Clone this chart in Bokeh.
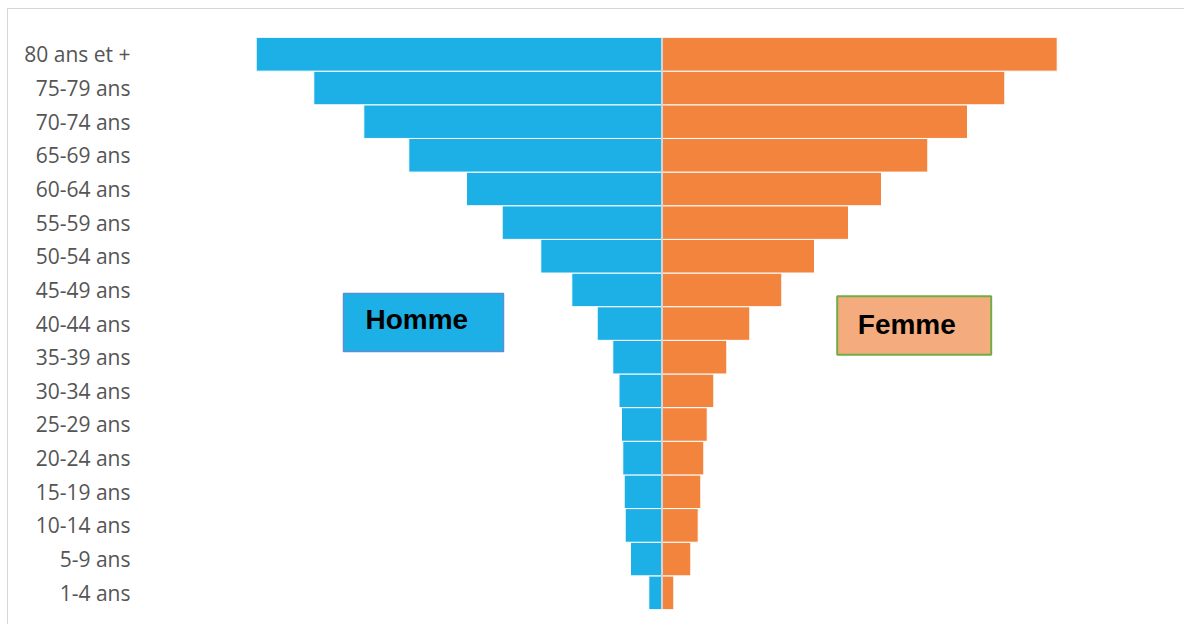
from bokeh.plotting import figure
from bokeh.models import ColumnDataSource, FactorRange, Range1d, Span
from bokeh.core.properties import value
from bokeh.embed import file_html
from bokeh.resources import INLINE

# Age groups, bottom to top
categories = ["1-4 ans", "5-9 ans", "10-14 ans", "15-19 ans", "20-24 ans", "25-29 ans",
              "30-34 ans", "35-39 ans", "40-44 ans", "45-49 ans", "50-54 ans", "55-59 ans",
              "60-64 ans", "65-69 ans", "70-74 ans", "75-79 ans", "80 ans et +"]
hommes = [13.2, 31.5, 36.8, 37.8, 39.2, 40.5, 43.0, 49.2, 64.8, 90.2, 121.2, 159.8,
          195.5, 253.2, 298.2, 348.2, 405.8]
femmes = [11.8, 28.8, 36.2, 38.8, 41.8, 45.2, 51.8, 64.8, 87.8, 119.8, 152.5, 186.5,
          219.5, 265.8, 305.5, 342.8, 395.2]
legend_labels = ["Homme", "Femme"]

BLUE = "#1cb0e6"
ORANGE = "#f2843d"

src = ColumnDataSource(dict(
    cat=categories,
    h_left=[-v for v in hommes],
    h_right=[0] * len(hommes),
    f_left=[0] * len(femmes),
    f_right=femmes,
))

p = figure(width=1177, height=616, output_backend="svg", toolbar_location=None,
           y_range=FactorRange(factors=categories, range_padding=0),
           x_range=Range1d(-521.5, 523.5),
           x_axis_location=None,
           min_border_left=132, min_border_right=0, min_border_top=28, min_border_bottom=16)
p.styles = {"margin-left": "7px", "margin-top": "8px",
            "border-left": "1px solid #d6d6d6", "border-top": "1px solid #d6d6d6"}
p.outline_line_color = None
p.xgrid.visible = False
p.ygrid.visible = False
p.background_fill_color = "white"
p.border_fill_color = "white"

p.hbar(y="cat", left="h_left", right="h_right", height=1.0, source=src,
       fill_color=BLUE, line_color="white", line_width=1)
p.hbar(y="cat", left="f_left", right="f_right", height=1.0, source=src,
       fill_color=ORANGE, line_color="white", line_width=1)

p.add_layout(Span(location=0, dimension="height", line_color="#d4d4d4", line_width=2))

yax = p.yaxis[0]
yax.axis_line_color = None
yax.major_tick_line_color = None
yax.minor_tick_line_color = None
yax.major_tick_out = 0
yax.major_tick_in = 0
yax.major_label_standoff = 10
yax.major_label_text_font = "Open Sans"
yax.major_label_text_font_size = "21px"
yax.major_label_text_color = "#555555"

# Legend-like boxes
p.quad(left=[-318.5], right=[-158.5], top=[9.392], bottom=[7.668],
       fill_color=BLUE, line_color="#5b8fd5", line_width=1.5)
p.quad(left=[175.2], right=[329.2], top=[9.311], bottom=[7.570],
       fill_color="#f4ac7e", line_color="#70ad47", line_width=2)
p.text(x=[-296.5], y=[8.62], text=[legend_labels[0]], text_font=value("Liberation Sans"),
       text_font_style="bold", text_font_size="28px", text_color="black",
       text_baseline="alphabetic", text_align="left")
p.text(x=[195.8], y=[8.47], text=[legend_labels[1]], text_font=value("Liberation Sans"),
       text_font_style="bold", text_font_size="28px", text_color="black",
       text_baseline="alphabetic", text_align="left")

open("out.html", "w").write(file_html(p, INLINE))
